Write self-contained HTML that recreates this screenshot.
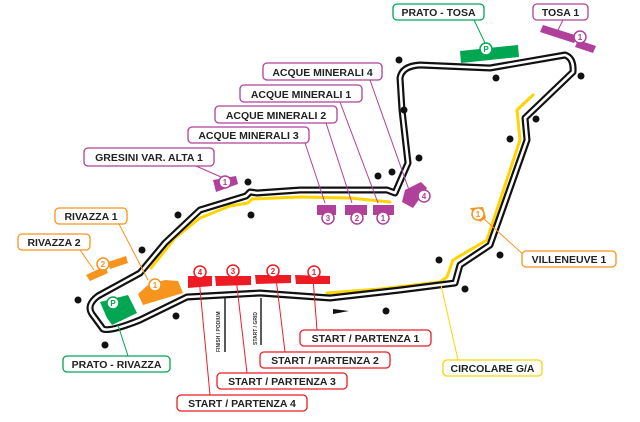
<!DOCTYPE html>
<html><head><meta charset="utf-8"><style>
html,body{margin:0;padding:0;background:#fff}
svg{display:block}
text{font-family:"Liberation Sans",sans-serif;font-weight:bold}
</style></head><body>
<svg width="640" height="422" viewBox="0 0 640 422" xmlns="http://www.w3.org/2000/svg">
<g fill="none" stroke="#ffd400" stroke-width="3" stroke-linecap="round" stroke-linejoin="round">
<path d="M151,268 L175,238 L200,218 L230,206 L248,203 L252,199 L300,197 L350,198 L390,202"/>
<path d="M327,293 L380,289 L440,282 L447,277 L453,260 L487,240 L520,140 L517,110 L533,95"/>
</g>
<g fill="none" stroke-linejoin="round" stroke-linecap="round">
<path d="M187,297 L260,293 L330,298 L400,290 L455,283 L460,265 L490,245 L527,140 L525,118 L573,72 Q574,58 565,55 L490,68 L420,65 Q402,66 400,78 L402,110 L408,163 L395,193 L387,190 L300,190 L257,193 L250,192 L246,196 L200,210 L165,243 L140,273 L98,296 Q86,305 92,314 L103,329 Q110,332 140,320 L187,297 Z" stroke="#111" stroke-width="7"/>
<path d="M187,297 L260,293 L330,298 L400,290 L455,283 L460,265 L490,245 L527,140 L525,118 L573,72 Q574,58 565,55 L490,68 L420,65 Q402,66 400,78 L402,110 L408,163 L395,193 L387,190 L300,190 L257,193 L250,192 L246,196 L200,210 L165,243 L140,273 L98,296 Q86,305 92,314 L103,329 Q110,332 140,320 L187,297 Z" stroke="#fff" stroke-width="2.6"/>
</g>
<line x1="225" y1="298" x2="225" y2="352" stroke="#222" stroke-width="1.5"/>
<line x1="261" y1="298" x2="261" y2="345" stroke="#222" stroke-width="1.5"/>
<text transform="translate(220,352) rotate(-90)" font-size="5" font-weight="normal" fill="#333">FINISH / PODIUM</text>
<text transform="translate(257,345) rotate(-90)" font-size="5" font-weight="normal" fill="#333">START / GRID</text>
<polygon points="333,309 349,311 333,314" fill="#111"/>
<g fill="#111">
<circle cx="386" cy="311" r="3.5"/><circle cx="465" cy="289" r="3.5"/><circle cx="439" cy="260" r="3.5"/><circle cx="500" cy="255" r="3.5"/>
<circle cx="510" cy="139" r="3.5"/><circle cx="536" cy="119" r="3.5"/><circle cx="581" cy="76" r="3.5"/><circle cx="496" cy="78" r="3.5"/>
<circle cx="399" cy="60" r="3.5"/><circle cx="404" cy="110" r="3.5"/><circle cx="419" cy="158" r="3.5"/><circle cx="392" cy="172" r="3.5"/>
<circle cx="378" cy="176" r="3.5"/><circle cx="248" cy="182" r="3.5"/><circle cx="251" cy="215" r="3.5"/><circle cx="178" cy="215" r="3.5"/>
<circle cx="142" cy="250" r="3.5"/><circle cx="78" cy="300" r="3.5"/><circle cx="105" cy="345" r="3.5"/><circle cx="176" cy="316" r="3.5"/>
</g>
<g fill="none" stroke-width="1">
<line x1="474" y1="20" x2="486" y2="45" stroke="#00a651"/>
<line x1="563" y1="20" x2="558" y2="30" stroke="#b0409a"/>
<line x1="370" y1="80" x2="409" y2="190" stroke="#b0409a"/>
<line x1="340" y1="102" x2="378" y2="203" stroke="#b0409a"/>
<line x1="326" y1="123" x2="352" y2="203" stroke="#b0409a"/>
<line x1="305" y1="143" x2="325" y2="203" stroke="#b0409a"/>
<line x1="196" y1="166" x2="221" y2="177" stroke="#b0409a"/>
<line x1="119" y1="224" x2="148" y2="280" stroke="#f7941d"/>
<line x1="80" y1="250" x2="94" y2="270" stroke="#f7941d"/>
<line x1="483" y1="218" x2="525" y2="256" stroke="#f7941d"/>
<line x1="118" y1="325" x2="128" y2="356" stroke="#00a651"/>
<line x1="313" y1="278" x2="317" y2="330" stroke="#ed1c24"/>
<line x1="276" y1="278" x2="285" y2="352" stroke="#ed1c24"/>
<line x1="236" y1="278" x2="247" y2="373" stroke="#ed1c24"/>
<line x1="199" y1="278" x2="210" y2="395" stroke="#ed1c24"/>
<line x1="441" y1="285" x2="458" y2="360" stroke="#ffd400"/>
</g>
<g fill="#00a651">
<polygon points="460,51 518,45 519,57 461,63"/>
<polygon points="100,302 128,295 137,313 112,325 107,318"/>
</g>
<g fill="#b0409a">
<polygon points="543,25 578,36 574,43 540,32"/><polygon points="578,40 596,46 593,53 575,47"/>
<polygon points="405,190 421,182 427,188 413,208 402,202"/>
<polygon points="317,205 336,205 336,215 317,215"/><polygon points="345,205 367,205 367,215 345,215"/><polygon points="373,205 394,205 394,215 373,215"/>
<polygon points="213,180 236,176 238,184 216,192"/>
</g>
<g fill="#f7941d">
<polygon points="86,275 105,266 108,273 90,281"/><polygon points="108,262 126,256 128,263 110,269"/>
<polygon points="138,294 148,285 165,280 178,281 183,293 143,305"/>
<polygon points="470,208 483,207 486,218 480,222"/>
</g>
<g fill="#ed1c24">
<polygon points="188,276 212,276 212,286 188,288"/><polygon points="215,276 251,276 251,285 216,286"/>
<polygon points="255,275 291,275 291,283 256,284"/><polygon points="295,275 330,276 330,284 296,284"/>
</g>
<g stroke-width="1.5" fill="#fff" font-size="8" text-anchor="middle">
<circle cx="486" cy="49" r="6" stroke="#00a651"/><text x="486" y="52" fill="#00a651">P</text>
<circle cx="580" cy="37" r="6" stroke="#b0409a"/><text x="580" y="40" fill="#b0409a">1</text>
<circle cx="424" cy="196" r="6" stroke="#b0409a"/><text x="424" y="199" fill="#b0409a">4</text>
<circle cx="328" cy="218" r="6" stroke="#b0409a"/><text x="328" y="221" fill="#b0409a">3</text>
<circle cx="357" cy="218" r="6" stroke="#b0409a"/><text x="357" y="221" fill="#b0409a">2</text>
<circle cx="383" cy="218" r="6" stroke="#b0409a"/><text x="383" y="221" fill="#b0409a">1</text>
<circle cx="225" cy="182" r="6" stroke="#b0409a"/><text x="225" y="185" fill="#b0409a">1</text>
<circle cx="103" cy="264" r="6" stroke="#f7941d"/><text x="103" y="267" fill="#f7941d">2</text>
<circle cx="155" cy="285" r="6" stroke="#f7941d"/><text x="155" y="288" fill="#f7941d">1</text>
<circle cx="478" cy="214" r="6" stroke="#f7941d"/><text x="478" y="217" fill="#f7941d">1</text>
<circle cx="113" cy="303" r="6" stroke="#00a651"/><text x="113" y="306" fill="#00a651">P</text>
<circle cx="200" cy="272" r="6" stroke="#ed1c24"/><text x="200" y="275" fill="#ed1c24">4</text>
<circle cx="233" cy="271" r="6" stroke="#ed1c24"/><text x="233" y="274" fill="#ed1c24">3</text>
<circle cx="273" cy="271" r="6" stroke="#ed1c24"/><text x="273" y="274" fill="#ed1c24">2</text>
<circle cx="314" cy="272" r="6" stroke="#ed1c24"/><text x="314" y="275" fill="#ed1c24">1</text>
</g>
<g fill="#fff" stroke-width="1.3">
<rect x="393" y="4" width="91" height="16" rx="4" stroke="#00a651"/>
<rect x="533" y="4" width="55" height="16" rx="4" stroke="#b0409a"/>
<rect x="263" y="63" width="119" height="17" rx="4" stroke="#b0409a"/>
<rect x="240" y="85" width="122" height="17" rx="4" stroke="#b0409a"/>
<rect x="215" y="106" width="122" height="17" rx="4" stroke="#b0409a"/>
<rect x="188" y="127" width="121" height="16" rx="4" stroke="#b0409a"/>
<rect x="84" y="148" width="130" height="18" rx="4" stroke="#b0409a"/>
<rect x="55" y="208" width="72" height="16" rx="4" stroke="#f7941d"/>
<rect x="18" y="234" width="72" height="16" rx="4" stroke="#f7941d"/>
<rect x="522" y="251" width="94" height="16" rx="4" stroke="#f7941d"/>
<rect x="300" y="330" width="131" height="16" rx="4" stroke="#ed1c24"/>
<rect x="260" y="352" width="130" height="16" rx="4" stroke="#ed1c24"/>
<rect x="217" y="373" width="130" height="16" rx="4" stroke="#ed1c24"/>
<rect x="177" y="395" width="130" height="16" rx="4" stroke="#ed1c24"/>
<rect x="63" y="356" width="107" height="16" rx="4" stroke="#00a651"/>
<rect x="443" y="360" width="99" height="16" rx="4" stroke="#ffd400"/>
</g>
<g fill="#222" font-size="10.5" text-anchor="middle">
<text x="438.5" y="16">PRATO - TOSA</text>
<text x="560.5" y="16">TOSA 1</text>
<text x="322.5" y="76">ACQUE MINERALI 4</text>
<text x="301" y="98">ACQUE MINERALI 1</text>
<text x="276" y="119">ACQUE MINERALI 2</text>
<text x="248.5" y="139">ACQUE MINERALI 3</text>
<text x="149" y="161">GRESINI VAR. ALTA 1</text>
<text x="91" y="220">RIVAZZA 1</text>
<text x="54" y="246">RIVAZZA 2</text>
<text x="569" y="263">VILLENEUVE 1</text>
<text x="365.5" y="342">START / PARTENZA 1</text>
<text x="325" y="364">START / PARTENZA 2</text>
<text x="282" y="385">START / PARTENZA 3</text>
<text x="242" y="407">START / PARTENZA 4</text>
<text x="116.5" y="368">PRATO - RIVAZZA</text>
<text x="492.5" y="372">CIRCOLARE G/A</text>
</g>
</svg>
</body></html>
